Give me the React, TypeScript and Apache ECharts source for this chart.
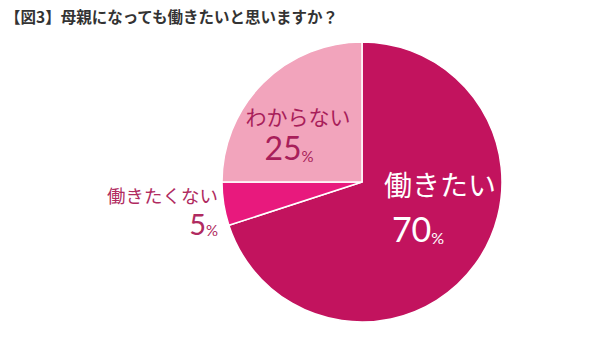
import React, { useEffect, useRef } from "react";
import * as echarts from "echarts";

const title = "【図3】母親になっても働きたいと思いますか？";
const categories = ["働きたい", "働きたくない", "わからない"];
const values = [70, 5, 25];
const sliceColors = ["#C2135E", "#E8197D", "#F2A4BC"];

const FONT = '"Noto Sans CJK JP", "Noto Sans", sans-serif';
const NUM_FONT = 'Lato, "Open Sans", sans-serif';

export default function App() {
  const ref = useRef<HTMLDivElement>(null);
  useEffect(() => {
    document.body.style.margin = "0";
    const chart = echarts.init(ref.current!, null, { renderer: "svg" });
    const labelSpec = [
      { x: 440, nameY: 184, nameSize: 28, color: "#ffffff", valY: 232, numSize: 34, pSize: 16, shift: 44, align: "center" },
      { x: 218, nameY: 195, nameSize: 18.5, color: "#B02A60", valY: 226, numSize: 29, pSize: 15, shift: 0, align: "right" },
      { x: 298, nameY: 116, nameSize: 21, color: "#A81E5A", valY: 151, numSize: 32, pSize: 15, shift: 18, align: "center" },
    ];
    const graphics: any[] = [
      {
        type: "text",
        left: 5,
        top: 8,
        z: 100,
        style: { text: title, fontSize: 15.5, fontWeight: "bold", fill: "#333333", fontFamily: FONT },
      },
    ];
    categories.forEach((c, i) => {
      const s = labelSpec[i];
      const L2 = s.numSize * 0.8;
      const L1 = 2 * (s.valY - s.nameY) - L2;
      const top = s.nameY - L1 / 2;
      graphics.push({
        type: "text",
        x: s.x,
        y: top,
        z: 100,
        style: {
          text: `{name|${c}}\n{n|${values[i]}}{p|%}`,
          align: s.align,
          verticalAlign: "top",
          fontFamily: FONT,
          rich: {
            name: { fontSize: s.nameSize, lineHeight: L1, fill: s.color, color: s.color, fontFamily: FONT },
            n: { fontSize: s.numSize, lineHeight: L2, fill: s.color, color: s.color, fontFamily: NUM_FONT, verticalAlign: "bottom" },
            p: { fontSize: s.pSize, lineHeight: L2, fill: s.color, color: s.color, fontFamily: NUM_FONT, verticalAlign: "bottom", padding: [0, s.shift, 0, 0] },
          },
        },
      });
    });
    chart.setOption({
      animation: false,
      graphic: graphics,
      series: [
        {
          type: "pie",
          center: [362, 182],
          radius: 140,
          startAngle: 90,
          clockwise: true,
          z: 1,
          label: { show: false },
          labelLine: { show: false },
          silent: true,
          itemStyle: { borderColor: "#ffffff", borderWidth: 1.5 },
          data: categories.map((c, i) => ({ name: c, value: values[i], itemStyle: { color: sliceColors[i] } })),
        },
      ],
    });
    return () => chart.dispose();
  }, []);
  return <div ref={ref} style={{ width: 592, height: 364 }} />;
}
